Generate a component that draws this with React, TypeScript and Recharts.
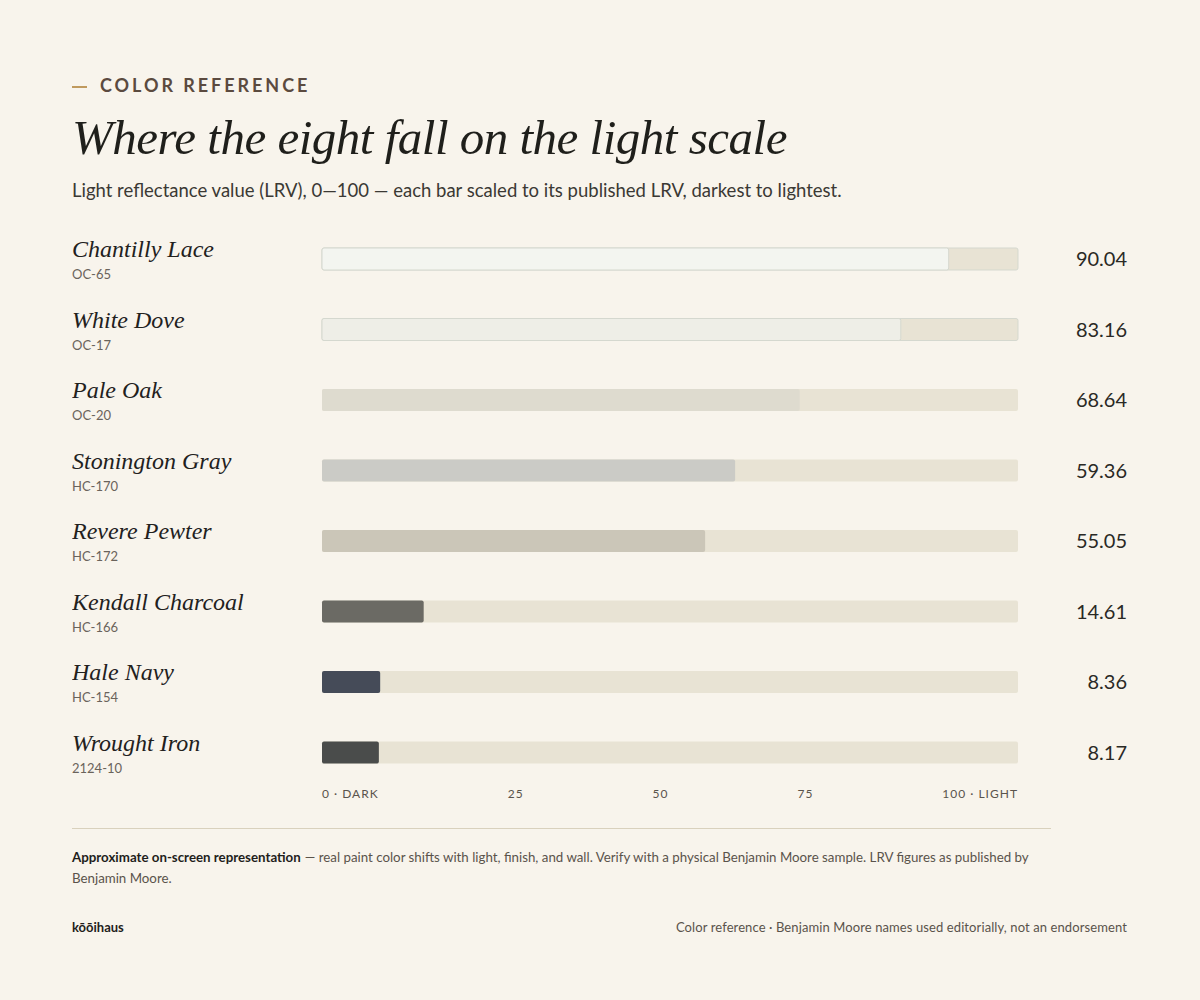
import React from "react";
import { BarChart, Bar, XAxis, YAxis, Cell } from "recharts";

const names = [
  "Chantilly Lace",
  "White Dove",
  "Pale Oak",
  "Stonington Gray",
  "Revere Pewter",
  "Kendall Charcoal",
  "Hale Navy",
  "Wrought Iron",
];
const codes = ["OC-65", "OC-17", "OC-20", "HC-170", "HC-172", "HC-166", "HC-154", "2124-10"];
const lrvValues = [90.04, 83.16, 68.64, 59.36, 55.05, 14.61, 8.36, 8.17];
const swatches = ["#f3f5f0", "#eeeee7", "#dedbcf", "#cbcbc6", "#cbc6b8", "#6b6a64", "#454b58", "#4a4c4b"];
const outlined = [true, true, false, false, false, false, false, false];
const scaleLabels = ["0 · DARK", "25", "50", "75", "100 · LIGHT"];

const data = names.map((name, i) => ({
  name,
  code: codes[i],
  lrv: lrvValues[i],
  color: swatches[i],
  outlined: outlined[i],
}));

const SERIF = '"Liberation Serif", "DejaVu Serif", serif';
const SANS = 'Lato, "Noto Sans", "Open Sans", sans-serif';
const BG = "#f8f4ec";
const CHART_W = 1056;

const NameTick = (props: any) => {
  const { y, payload } = props;
  const i = names.indexOf(payload.value);
  return (
    <g>
      <text x={0} y={y - 2} fontFamily={SERIF} fontStyle="italic" fontSize={24} fill="#22211d">
        {payload.value}
      </text>
      <text x={0} y={y + 20} fontFamily={SANS} fontSize={13} fill="#6a635b">
        {codes[i]}
      </text>
    </g>
  );
};

const ValueTick = (props: any) => {
  const { y, payload } = props;
  const i = names.indexOf(payload.value);
  return (
    <text x={CHART_W - 1} y={y + 7} textAnchor="end" fontFamily={SANS} fontSize={20} fill="#2a2925">
      {lrvValues[i].toFixed(2)}
    </text>
  );
};

export default function App() {
  return (
    <div style={{ position: "relative", width: 1200, height: 1000, background: BG, margin: -8, fontFamily: SANS }}>
      <style>{`body{margin:8px;background:${BG};}`}</style>
      {/* Eyebrow */}
      <div style={{ position: "absolute", left: 72, top: 86, width: 15, height: 2, background: "#c09a5e" }} />
      <div
        style={{
          position: "absolute",
          left: 100,
          top: 74,
          fontSize: 18,
          fontWeight: 700,
          letterSpacing: 2.95,
          color: "#5b4a3f",
          lineHeight: "22px",
        }}
      >
        COLOR REFERENCE
      </div>
      {/* Title */}
      <div
        style={{
          position: "absolute",
          left: 72,
          top: 108,
          fontFamily: SERIF,
          fontStyle: "italic",
          fontSize: 49,
          lineHeight: "60px",
          color: "#1f1f1b",
          letterSpacing: -0.5,
        }}
      >
        Where the eight fall on the light scale
      </div>
      {/* Subtitle */}
      <div style={{ position: "absolute", left: 72, top: 179, fontSize: 18.5, lineHeight: "22px", color: "#3b3934" }}>
        Light reflectance value (LRV), 0—100 — each bar scaled to its published LRV, darkest to lightest.
      </div>
      {/* Chart */}
      <div style={{ position: "absolute", left: 72, top: 224 }}>
        <BarChart
          width={CHART_W}
          height={564}
          data={data}
          layout="vertical"
          margin={{ top: 0, right: 0, bottom: 0, left: 0 }}
        >
          <XAxis type="number" domain={[0, 100]} hide />
          <YAxis
            yAxisId="left"
            type="category"
            dataKey="name"
            width={250}
            axisLine={false}
            tickLine={false}
            tick={<NameTick />}
            interval={0}
          />
          <YAxis
            yAxisId="right"
            orientation="right"
            type="category"
            dataKey="name"
            width={110}
            axisLine={false}
            tickLine={false}
            tick={<ValueTick />}
            interval={0}
          />
          <Bar
            dataKey="lrv"
            yAxisId="left"
            barSize={22}
            radius={2}
            background={{ fill: "#e8e3d4", radius: 2 } as any}
            isAnimationActive={false}
          >
            {data.map((d) => (
              <Cell
                key={d.name}
                fill={d.color}
                stroke={d.outlined ? "#d5d8cf" : "none"}
                strokeWidth={d.outlined ? 1 : 0}
              />
            ))}
          </Bar>
        </BarChart>
      </div>
      {/* Scale labels */}
      <div
        style={{
          position: "absolute",
          left: 322,
          width: 696,
          top: 786,
          display: "flex",
          justifyContent: "space-between",
          fontSize: 12,
          letterSpacing: 1,
          color: "#5a544c",
          lineHeight: "16px",
        }}
      >
        {scaleLabels.map((l) => (
          <span key={l}>{l}</span>
        ))}
      </div>
      {/* Divider */}
      <div style={{ position: "absolute", left: 72, top: 828, width: 979, height: 1, background: "#d9d1bd" }} />
      {/* Note */}
      <div
        style={{
          position: "absolute",
          left: 72,
          top: 847,
          width: 990,
          fontSize: 13.3,
          lineHeight: "21px",
          color: "#5a534b",
          whiteSpace: "nowrap",
        }}
      >
        <div>
          <span style={{ fontWeight: 700, color: "#1f1e1b", marginRight: 4 }}>Approximate on-screen representation</span>
          <span>— real paint color shifts with light, finish, and wall. Verify with a physical Benjamin Moore sample. LRV figures as published by</span>
        </div>
        <div>Benjamin Moore.</div>
      </div>
      {/* Footer */}
      <div style={{ position: "absolute", left: 72, top: 918, fontSize: 13, fontWeight: 700, color: "#1f1e1b", lineHeight: "18px" }}>
        kōōihaus
      </div>
      <div
        style={{
          position: "absolute",
          right: 73,
          top: 918,
          fontSize: 13,
          color: "#5a534b",
          letterSpacing: 0.1,
          lineHeight: "18px",
        }}
      >
        Color reference · Benjamin Moore names used editorially, not an endorsement
      </div>
    </div>
  );
}
